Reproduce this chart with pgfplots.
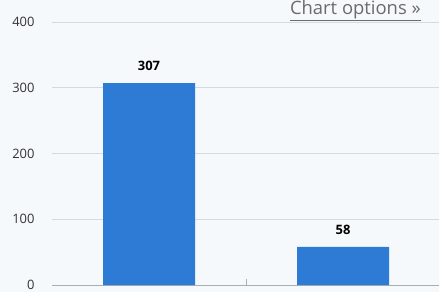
\documentclass[border=0pt]{standalone}
\usepackage{pgfplots}
\pgfplotsset{compat=1.18}
\usepackage{fontspec}
\setmainfont{Open Sans}
\definecolor{bg}{HTML}{F6F9FC}
\definecolor{barc}{HTML}{2E7BD6}
\definecolor{gridc}{HTML}{D5DAE0}
\definecolor{labc}{HTML}{333333}
\definecolor{linkc}{HTML}{6B6B6B}
\begin{document}
\begin{tikzpicture}[x=1bp,y=1bp]
\fill[bg] (0,0) rectangle (439,292);
\useasboundingbox (0,0) rectangle (439,292);
\begin{axis}[
  at={(52bp,7bp)}, anchor=south west,
  scale only axis, width=388bp, height=263bp,
  xmin=-0.5, xmax=1.5, ymin=0, ymax=400,
  ytick={0,100,200,300,400},
  xtick={0.5}, xticklabels={},
  axis x line*=bottom, axis y line*=left,
  y axis line style={draw=none},
  x axis line style={draw=gridc!80!black},
  ytick style={draw=none},
  xtick style={draw=gridc!80!black},
  major tick length=6bp,
  ymajorgrids, grid style={gridc, line width=0.6pt},
  yticklabel style={font=\fontsize{13}{15}\selectfont, text=labc, xshift=-14bp},
  /pgf/number format/assume math mode=true,
  clip=false,
  nodes near coords,
  every node near coord/.append style={font=\fontsize{13}{15}\selectfont\bfseries, text=black, anchor=south, inner sep=0pt, yshift=12bp},
]
\addplot[ybar, bar width=92bp, fill=barc, draw=none] coordinates {(0,307) (1,58)};
\end{axis}
\node[anchor=north east, text=linkc, font=\fontsize{18.5}{20}\selectfont, inner sep=0pt] at (421,291.5) {\underline{Chart options »}};
\end{tikzpicture}
\end{document}
